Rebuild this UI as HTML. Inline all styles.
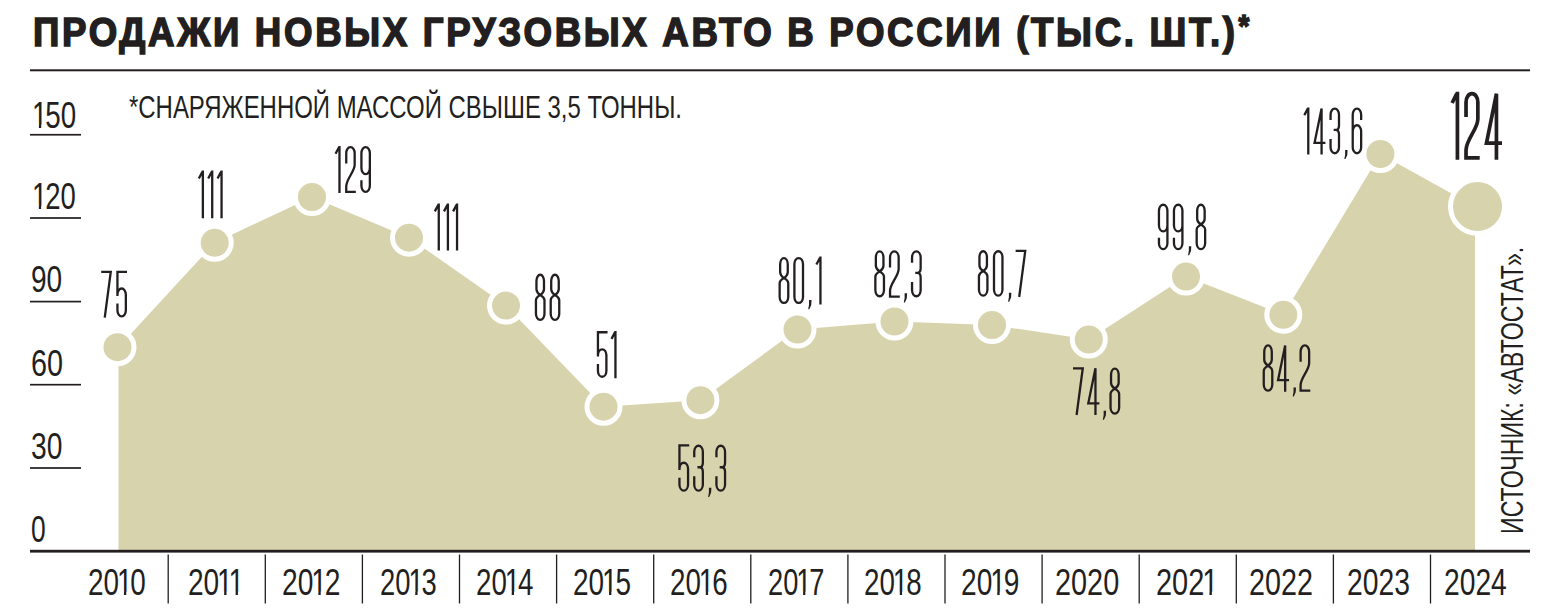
<!DOCTYPE html>
<html><head><meta charset="utf-8"><title>Продажи новых грузовых авто в России</title><style>
html,body{margin:0;padding:0;background:#fff;}
body{width:1547px;height:611px;overflow:hidden;position:relative;font-family:"Liberation Sans",sans-serif;color:#231f20;}
.t{position:absolute;white-space:nowrap;line-height:1;transform-origin:0 0;}
svg{position:absolute;left:0;top:0;}
.o{display:inline-block;margin:0 -0.075em;clip-path:polygon(0 0,100% 0,100% 73.5%,60.2% 73.5%,60.2% 100%,45.2% 100%,45.2% 73.5%,0 73.5%);}
</style></head><body>
<svg width="1547" height="611" viewBox="0 0 1547 611">
<rect x="30" y="69.3" width="1500" height="2" fill="#231f20"/>
<path d="M118.5,551 L118.5,347.2 L214.7,242.8 L312.0,197.0 L409.0,237.7 L506.0,305.6 L603.5,406.7 L700.4,400.2 L797.5,329.5 L894.5,321.5 L992.0,325.0 L1088.8,339.5 L1186.0,276.6 L1283.3,314.8 L1380.4,154.0 L1475,206.5 L1475,551 Z" fill="#d7d3ad"/>
<g fill="#d7d3ad" stroke="#fff" stroke-width="5"><circle cx="117.5" cy="347.2" r="16.5"/><circle cx="214.7" cy="242.8" r="16.5"/><circle cx="312" cy="197" r="16.5"/><circle cx="409" cy="237.7" r="16.5"/><circle cx="506" cy="305.6" r="16.5"/><circle cx="603.5" cy="406.7" r="16.5"/><circle cx="700.4" cy="400.2" r="16.5"/><circle cx="797.5" cy="329.5" r="16.5"/><circle cx="894.5" cy="321.5" r="16.5"/><circle cx="992" cy="325" r="16.5"/><circle cx="1088.8" cy="339.5" r="16.5"/><circle cx="1186" cy="276.6" r="16.5"/><circle cx="1283.3" cy="314.8" r="16.5"/><circle cx="1380.4" cy="154" r="16.5"/><circle cx="1477.5" cy="206.5" r="27"/></g>
<g fill="#231f20">
<rect x="30" y="549.8" width="1500" height="2.8"/>
<rect x="167.55" y="554.5" width="1.3" height="49"/><rect x="264.65" y="554.5" width="1.3" height="49"/><rect x="361.75" y="554.5" width="1.3" height="49"/><rect x="458.85" y="554.5" width="1.3" height="49"/><rect x="555.95" y="554.5" width="1.3" height="49"/><rect x="653.05" y="554.5" width="1.3" height="49"/><rect x="750.15" y="554.5" width="1.3" height="49"/><rect x="847.25" y="554.5" width="1.3" height="49"/><rect x="944.35" y="554.5" width="1.3" height="49"/><rect x="1041.45" y="554.5" width="1.3" height="49"/><rect x="1138.55" y="554.5" width="1.3" height="49"/><rect x="1235.65" y="554.5" width="1.3" height="49"/><rect x="1332.75" y="554.5" width="1.3" height="49"/><rect x="1429.85" y="554.5" width="1.3" height="49"/>
<rect x="30" y="133.90" width="51" height="1.7"/><rect x="30" y="217.15" width="51" height="1.7"/><rect x="30" y="300.75" width="51" height="1.7"/><rect x="30" y="383.85" width="51" height="1.7"/><rect x="30" y="467.15" width="51" height="1.7"/>
</g>
<g fill="none" stroke="#231f20" stroke-width="2.3" stroke-linecap="butt" stroke-linejoin="miter">
<path transform="translate(101.20,270.70)" stroke-width="2.3" d="M0,1.15 L9.56,1.15 L3.53,46.9"/>
<path transform="translate(116.29,270.70)" stroke-width="2.3" d="M10.71,1.15 L1.15,1.15 L1.15,25.33 M1.15,23.92 A4.2,6.09 0 0 1 9.56,23.92 L9.56,39.66 A4.2,6.09 0 0 1 1.15,39.66 L1.15,32.83"/>
<path transform="translate(197.80,170.60)" stroke-width="2.3" d="M5.06,0 L5.06,47.6 M4.6,1.26 L1.03,7.85"/>
<path transform="translate(207.15,170.60)" stroke-width="2.3" d="M5.06,0 L5.06,47.6 M4.6,1.26 L1.03,7.85"/>
<path transform="translate(216.49,170.60)" stroke-width="2.3" d="M5.06,0 L5.06,47.6 M4.6,1.26 L1.03,7.85"/>
<path transform="translate(334.50,146.00)" stroke-width="2.3" d="M4.98,0 L4.98,47 M4.52,1.26 L1.03,7.76"/>
<path transform="translate(345.09,146.00)" stroke-width="2.3" d="M1.15,17.39 L1.15,7.26 A4.21,6.11 0 0 1 9.58,7.26 L9.58,18.8 C9.58,25.85 1.15,32.9 1.15,40.42 L1.15,45.85 L10.73,45.85"/>
<path transform="translate(360.27,146.00)" stroke-width="2.3" d="M1.15,34.31 L1.15,39.74 A4.21,6.11 0 0 0 9.58,39.74 L9.58,7.26 A4.21,6.11 0 0 0 1.15,7.26 L1.15,22.09 A4.21,6.11 0 0 0 9.58,22.09"/>
<path transform="translate(433.80,203.60)" stroke-width="2.3" d="M4.97,0 L4.97,46.9 M4.51,1.26 L1.03,7.74"/>
<path transform="translate(442.94,203.60)" stroke-width="2.3" d="M4.97,0 L4.97,46.9 M4.51,1.26 L1.03,7.74"/>
<path transform="translate(452.08,203.60)" stroke-width="2.3" d="M4.97,0 L4.97,46.9 M4.51,1.26 L1.03,7.74"/>
<path transform="translate(534.80,273.60)" stroke-width="2.3" d="M5.42,21.37 C7.5,19.95 9.19,18.24 9.19,15.67 L9.19,7.34 A3.77,6.19 0 0 0 1.65,7.34 L1.65,15.67 C1.65,18.24 3.35,19.95 5.42,21.37 C7.77,22.68 9.69,24.25 9.69,26.6 L9.69,40.16 A4.27,6.19 0 0 1 1.15,40.16 L1.15,26.6 C1.15,24.25 3.07,22.68 5.42,21.37 Z"/>
<path transform="translate(549.56,273.60)" stroke-width="2.3" d="M5.42,21.37 C7.5,19.95 9.19,18.24 9.19,15.67 L9.19,7.34 A3.77,6.19 0 0 0 1.65,7.34 L1.65,15.67 C1.65,18.24 3.35,19.95 5.42,21.37 C7.77,22.68 9.69,24.25 9.69,26.6 L9.69,40.16 A4.27,6.19 0 0 1 1.15,40.16 L1.15,26.6 C1.15,24.25 3.07,22.68 5.42,21.37 Z"/>
<path transform="translate(596.80,331.10)" stroke-width="2.3" d="M10.75,1.15 L1.15,1.15 L1.15,25.43 M1.15,24.03 A4.23,6.13 0 0 1 9.6,24.03 L9.6,39.82 A4.23,6.13 0 0 1 1.15,39.82 L1.15,32.97"/>
<path transform="translate(610.46,331.10)" stroke-width="2.3" d="M4.99,0 L4.99,47.1 M4.53,1.26 L1.03,7.77"/>
<path transform="translate(678.30,444.30)" stroke-width="2.3" d="M10.91,1.15 L1.15,1.15 L1.15,25.81 M1.15,24.41 A4.31,6.24 0 0 1 9.76,24.41 L9.76,40.41 A4.31,6.24 0 0 1 1.15,40.41 L1.15,33.46"/>
<path transform="translate(693.09,444.30)" stroke-width="2.3" d="M1.15,12.91 L1.15,7.39 A4.31,6.24 0 0 1 9.76,7.39 L9.76,18.36 C9.76,21.8 8.04,22.94 6.32,22.94 L4.36,22.94 M6.32,22.94 C8.04,22.94 9.76,24.09 9.76,27.53 L9.76,40.41 A4.31,6.24 0 0 1 1.15,40.41 L1.15,32.03"/>
<path transform="translate(707.88,444.30)" stroke="none" fill="#231f20" d="M1.04,43.44 L3.53,43.44 L3.22,48.32 L1.35,52.58 L0.21,52.58 L1.04,48.11 Z"/>
<path transform="translate(715.29,444.30)" stroke-width="2.3" d="M1.15,12.91 L1.15,7.39 A4.31,6.24 0 0 1 9.76,7.39 L9.76,18.36 C9.76,21.8 8.04,22.94 6.32,22.94 L4.36,22.94 M6.32,22.94 C8.04,22.94 9.76,24.09 9.76,27.53 L9.76,40.41 A4.31,6.24 0 0 1 1.15,40.41 L1.15,32.03"/>
<path transform="translate(778.50,256.60)" stroke-width="2.3" d="M5.46,21.51 C7.55,20.08 9.26,18.36 9.26,15.77 L9.26,7.39 A3.81,6.24 0 0 0 1.65,7.39 L1.65,15.77 C1.65,18.36 3.36,20.08 5.46,21.51 C7.82,22.82 9.76,24.4 9.76,26.77 L9.76,40.41 A4.31,6.24 0 0 1 1.15,40.41 L1.15,26.77 C1.15,24.4 3.09,22.82 5.46,21.51 Z"/>
<path transform="translate(793.25,256.60)" stroke-width="2.3" d="M1.15,7.39 A4.31,6.24 0 0 1 9.76,7.39 L9.76,40.41 A4.31,6.24 0 0 1 1.15,40.41 Z"/>
<path transform="translate(808.00,256.60)" stroke="none" fill="#231f20" d="M1.04,43.44 L3.53,43.44 L3.22,48.32 L1.35,52.58 L0.21,52.58 L1.04,48.11 Z"/>
<path transform="translate(815.37,256.60)" stroke-width="2.3" d="M5.08,0 L5.08,47.8 M4.62,1.26 L1.03,7.89"/>
<path transform="translate(874.20,249.90)" stroke-width="2.3" d="M5.46,21.51 C7.55,20.08 9.26,18.36 9.26,15.77 L9.26,7.39 A3.81,6.24 0 0 0 1.65,7.39 L1.65,15.77 C1.65,18.36 3.36,20.08 5.46,21.51 C7.82,22.82 9.76,24.4 9.76,26.77 L9.76,40.41 A4.31,6.24 0 0 1 1.15,40.41 L1.15,26.77 C1.15,24.4 3.09,22.82 5.46,21.51 Z"/>
<path transform="translate(888.89,249.90)" stroke-width="2.3" d="M1.15,17.69 L1.15,7.39 A4.31,6.24 0 0 1 9.76,7.39 L9.76,19.12 C9.76,26.29 1.15,33.46 1.15,41.11 L1.15,46.65 L10.91,46.65"/>
<path transform="translate(903.58,249.90)" stroke="none" fill="#231f20" d="M1.04,43.44 L3.53,43.44 L3.22,48.32 L1.35,52.58 L0.21,52.58 L1.04,48.11 Z"/>
<path transform="translate(910.89,249.90)" stroke-width="2.3" d="M1.15,12.91 L1.15,7.39 A4.31,6.24 0 0 1 9.76,7.39 L9.76,18.36 C9.76,21.8 8.04,22.94 6.32,22.94 L4.36,22.94 M6.32,22.94 C8.04,22.94 9.76,24.09 9.76,27.53 L9.76,40.41 A4.31,6.24 0 0 1 1.15,40.41 L1.15,32.03"/>
<path transform="translate(977.80,249.80)" stroke-width="2.3" d="M5.39,21.24 C7.44,19.82 9.12,18.12 9.12,15.58 L9.12,7.29 A3.74,6.14 0 0 0 1.65,7.29 L1.65,15.58 C1.65,18.12 3.33,19.82 5.39,21.24 C7.72,22.54 9.62,24.1 9.62,26.43 L9.62,39.91 A4.24,6.14 0 0 1 1.15,39.91 L1.15,26.43 C1.15,24.1 3.06,22.54 5.39,21.24 Z"/>
<path transform="translate(992.84,249.80)" stroke-width="2.3" d="M1.15,7.29 A4.24,6.14 0 0 1 9.62,7.29 L9.62,39.91 A4.24,6.14 0 0 1 1.15,39.91 Z"/>
<path transform="translate(1007.87,249.80)" stroke="none" fill="#231f20" d="M1.03,42.89 L3.49,42.89 L3.18,47.71 L1.33,51.92 L0.21,51.92 L1.03,47.51 Z"/>
<path transform="translate(1015.63,249.80)" stroke-width="2.3" d="M0,1.15 L9.62,1.15 L3.56,47.2"/>
<path transform="translate(1073.00,367.20)" stroke-width="2.3" d="M0,1.15 L9.76,1.15 L3.6,47.8"/>
<path transform="translate(1087.15,367.20)" stroke-width="2.3" d="M8.31,47.8 L8.31,1.15 L1.15,36.09 L12.22,36.09"/>
<path transform="translate(1102.61,367.20)" stroke="none" fill="#231f20" d="M1.04,43.44 L3.53,43.44 L3.22,48.32 L1.35,52.58 L0.21,52.58 L1.04,48.11 Z"/>
<path transform="translate(1109.39,367.20)" stroke-width="2.3" d="M5.46,21.51 C7.55,20.08 9.26,18.36 9.26,15.77 L9.26,7.39 A3.81,6.24 0 0 0 1.65,7.39 L1.65,15.77 C1.65,18.36 3.36,20.08 5.46,21.51 C7.82,22.82 9.76,24.4 9.76,26.77 L9.76,40.41 A4.31,6.24 0 0 1 1.15,40.41 L1.15,26.77 C1.15,24.4 3.09,22.82 5.46,21.51 Z"/>
<path transform="translate(1157.80,203.30)" stroke-width="2.3" d="M1.15,34.46 L1.15,39.91 A4.24,6.14 0 0 0 9.62,39.91 L9.62,7.29 A4.24,6.14 0 0 0 1.15,7.29 L1.15,22.18 A4.24,6.14 0 0 0 9.62,22.18"/>
<path transform="translate(1172.80,203.30)" stroke-width="2.3" d="M1.15,34.46 L1.15,39.91 A4.24,6.14 0 0 0 9.62,39.91 L9.62,7.29 A4.24,6.14 0 0 0 1.15,7.29 L1.15,22.18 A4.24,6.14 0 0 0 9.62,22.18"/>
<path transform="translate(1187.81,203.30)" stroke="none" fill="#231f20" d="M1.03,42.89 L3.49,42.89 L3.18,47.71 L1.33,51.92 L0.21,51.92 L1.03,47.51 Z"/>
<path transform="translate(1195.53,203.30)" stroke-width="2.3" d="M5.39,21.24 C7.44,19.82 9.12,18.12 9.12,15.58 L9.12,7.29 A3.74,6.14 0 0 0 1.65,7.29 L1.65,15.58 C1.65,18.12 3.33,19.82 5.39,21.24 C7.72,22.54 9.62,24.1 9.62,26.43 L9.62,39.91 A4.24,6.14 0 0 1 1.15,39.91 L1.15,26.43 C1.15,24.1 3.06,22.54 5.39,21.24 Z"/>
<path transform="translate(1262.60,344.30)" stroke-width="2.3" d="M5.42,21.37 C7.5,19.95 9.19,18.24 9.19,15.67 L9.19,7.34 A3.77,6.19 0 0 0 1.65,7.34 L1.65,15.67 C1.65,18.24 3.35,19.95 5.42,21.37 C7.77,22.68 9.69,24.25 9.69,26.6 L9.69,40.16 A4.27,6.19 0 0 1 1.15,40.16 L1.15,26.6 C1.15,24.25 3.07,22.68 5.42,21.37 Z"/>
<path transform="translate(1276.90,344.30)" stroke-width="2.3" d="M8.26,47.5 L8.26,1.15 L1.15,35.86 L12.14,35.86"/>
<path transform="translate(1292.49,344.30)" stroke="none" fill="#231f20" d="M1.03,43.16 L3.51,43.16 L3.2,48.02 L1.34,52.25 L0.21,52.25 L1.03,47.81 Z"/>
<path transform="translate(1299.46,344.30)" stroke-width="2.3" d="M1.15,17.57 L1.15,7.34 A4.27,6.19 0 0 1 9.69,7.34 L9.69,19 C9.69,26.12 1.15,33.25 1.15,40.85 L1.15,46.35 L10.84,46.35"/>
<path transform="translate(1303.30,107.40)" stroke-width="2.3" d="M4.98,0 L4.98,47 M4.52,1.26 L1.03,7.76"/>
<path transform="translate(1313.41,107.40)" stroke-width="2.3" d="M8.17,47 L8.17,1.15 L1.15,35.49 L12.02,35.49"/>
<path transform="translate(1329.41,107.40)" stroke-width="2.3" d="M1.15,12.69 L1.15,7.26 A4.21,6.11 0 0 1 9.58,7.26 L9.58,18.05 C9.58,21.43 7.89,22.56 6.19,22.56 L4.29,22.56 M6.19,22.56 C7.89,22.56 9.58,23.69 9.58,27.07 L9.58,39.74 A4.21,6.11 0 0 1 1.15,39.74 L1.15,31.49"/>
<path transform="translate(1344.12,107.40)" stroke="none" fill="#231f20" d="M1.02,42.71 L3.47,42.71 L3.17,47.51 L1.33,51.7 L0.2,51.7 L1.02,47.31 Z"/>
<path transform="translate(1351.57,107.40)" stroke-width="2.3" d="M9.58,12.69 L9.58,7.26 A4.21,6.11 0 0 0 1.15,7.26 L1.15,39.74 A4.21,6.11 0 0 0 9.58,39.74 L9.58,23.97 A4.21,6.11 0 0 0 1.15,23.97"/>
<path transform="translate(1450.40,91.80)" stroke-width="3.7" d="M7.02,0 L7.02,68 M6.28,2.04 L1.67,11.22"/>
<path transform="translate(1464.18,91.80)" stroke-width="3.7" d="M1.85,25.16 L1.85,10.42 A5.91,8.57 0 0 1 13.67,10.42 L13.67,27.2 C13.67,37.4 1.85,47.6 1.85,58.48 L1.85,66.15 L15.52,66.15"/>
<path transform="translate(1484.62,91.80)" stroke-width="3.7" d="M11.82,68 L11.82,1.85 L1.85,51.34 L17.38,51.34"/>
</g>
</svg>
<div class="t" style="left:32.91px;top:11.55px;font:bold 41px 'Liberation Sans', sans-serif;line-height:1;-webkit-text-stroke:1.6px #231f20;letter-spacing:3px;transform:scale(0.8933,1.0000)">ПРОДАЖИ НОВЫХ ГРУЗОВЫХ АВТО В РОССИИ (ТЫС. ШТ.)<span style="font-size:31px;position:relative;top:-9px;margin-left:1px">*</span></div>
<div class="t" style="left:128.80px;top:92.30px;font:31px 'Liberation Sans', sans-serif;line-height:1;transform:scale(0.7720,1.0000)">*СНАРЯЖЕННОЙ МАССОЙ СВЫШЕ 3,5 ТОННЫ.</div>
<div class="t" style="left:34.20px;top:98.25px;font:36px 'Liberation Sans', sans-serif;line-height:1;transform:scale(0.7704,1.0000)"><span class="o">1</span>50</div>
<div class="t" style="left:34.20px;top:179.20px;font:36px 'Liberation Sans', sans-serif;line-height:1;transform:scale(0.7630,1.0000)"><span class="o">1</span>20</div>
<div class="t" style="left:31.42px;top:262.45px;font:36px 'Liberation Sans', sans-serif;line-height:1;transform:scale(0.7789,1.0000)">90</div>
<div class="t" style="left:30.60px;top:345.50px;font:36px 'Liberation Sans', sans-serif;line-height:1;transform:scale(0.8000,1.0000)">60</div>
<div class="t" style="left:31.22px;top:429.40px;font:36px 'Liberation Sans', sans-serif;line-height:1;transform:scale(0.7842,1.0000)">30</div>
<div class="t" style="left:31.27px;top:512.35px;font:36px 'Liberation Sans', sans-serif;line-height:1;transform:scale(0.7333,1.0000)">0</div>
<div class="t" style="left:88.08px;top:565.35px;font:36px 'Liberation Sans', sans-serif;line-height:1;transform:scale(0.7743,1.0000)">20<span class="o">1</span>0</div>
<div class="t" style="left:188.39px;top:565.35px;font:36px 'Liberation Sans', sans-serif;line-height:1;transform:scale(0.7794,1.0000)">20<span class="o">1</span><span class="o">1</span></div>
<div class="t" style="left:282.13px;top:565.35px;font:36px 'Liberation Sans', sans-serif;line-height:1;transform:scale(0.7831,1.0000)">20<span class="o">1</span>2</div>
<div class="t" style="left:379.63px;top:565.35px;font:36px 'Liberation Sans', sans-serif;line-height:1;transform:scale(0.7597,1.0000)">20<span class="o">1</span>3</div>
<div class="t" style="left:476.26px;top:565.35px;font:36px 'Liberation Sans', sans-serif;line-height:1;transform:scale(0.7694,1.0000)">20<span class="o">1</span>4</div>
<div class="t" style="left:573.00px;top:565.35px;font:36px 'Liberation Sans', sans-serif;line-height:1;transform:scale(0.7764,1.0000)">20<span class="o">1</span>5</div>
<div class="t" style="left:670.21px;top:565.35px;font:36px 'Liberation Sans', sans-serif;line-height:1;transform:scale(0.7708,1.0000)">20<span class="o">1</span>6</div>
<div class="t" style="left:768.14px;top:565.35px;font:36px 'Liberation Sans', sans-serif;line-height:1;transform:scale(0.7563,1.0000)">20<span class="o">1</span>7</div>
<div class="t" style="left:864.21px;top:565.35px;font:36px 'Liberation Sans', sans-serif;line-height:1;transform:scale(0.7708,1.0000)">20<span class="o">1</span>8</div>
<div class="t" style="left:961.19px;top:565.35px;font:36px 'Liberation Sans', sans-serif;line-height:1;transform:scale(0.7817,1.0000)">20<span class="o">1</span>9</div>
<div class="t" style="left:1055.05px;top:565.35px;font:36px 'Liberation Sans', sans-serif;line-height:1;transform:scale(0.8013,1.0000)">2020</div>
<div class="t" style="left:1155.54px;top:565.35px;font:36px 'Liberation Sans', sans-serif;line-height:1;transform:scale(0.8044,1.0000)">202<span class="o">1</span></div>
<div class="t" style="left:1249.21px;top:565.35px;font:36px 'Liberation Sans', sans-serif;line-height:1;transform:scale(0.7974,1.0000)">2022</div>
<div class="t" style="left:1346.68px;top:565.35px;font:36px 'Liberation Sans', sans-serif;line-height:1;transform:scale(0.7857,1.0000)">2023</div>
<div class="t" style="left:1443.73px;top:565.35px;font:36px 'Liberation Sans', sans-serif;line-height:1;transform:scale(0.7844,1.0000)">2024</div>
<div class="t" style="left:1497.40px;top:534.29px;font:31px 'Liberation Sans', sans-serif;line-height:1;transform:rotate(-90deg) scale(0.7474,1.0000)">ИСТОЧНИК: «АВТОСТАТ».</div>
</body></html>
